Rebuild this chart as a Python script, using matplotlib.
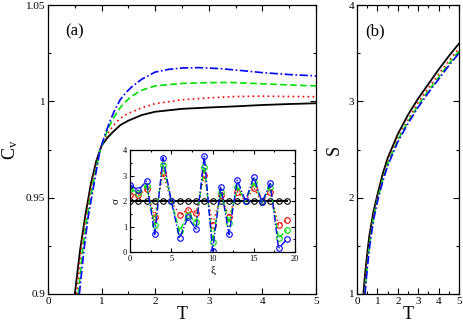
import matplotlib
matplotlib.use("Agg")
import matplotlib.pyplot as plt
from matplotlib.ticker import MultipleLocator, FuncFormatter
import numpy as np

plt.rcParams['font.family'] = ['Liberation Serif', 'DejaVu Serif']
plt.rcParams['mathtext.fontset'] = 'custom'
plt.rcParams['mathtext.rm'] = 'Liberation Serif'
plt.rcParams['mathtext.it'] = 'Liberation Serif'

# ---- Panel (a): specific heat ----
T_cv_black = [0.50, 0.60, 0.70, 0.80, 0.90, 1.00, 1.10, 1.20, 1.35, 1.50, 1.75, 2.00, 2.50, 3.00, 3.50, 4.00, 4.50, 5.00]
Cv_black = [0.900, 0.9232, 0.9415, 0.9572, 0.9690, 0.9770, 0.9808, 0.9838, 0.9877, 0.9900, 0.9929, 0.9946, 0.9961, 0.9968, 0.9974, 0.9981, 0.9986, 0.9990]

T_cv_red = [0.535, 0.62, 0.71, 0.82, 0.96, 1.05, 1.15, 1.25, 1.35, 1.45, 1.55, 1.75, 2.00, 2.50, 3.00, 3.50, 4.00, 4.50, 5.00]
Cv_red = [0.900, 0.9228, 0.9401, 0.9575, 0.9745, 0.9805, 0.9848, 0.9884, 0.9912, 0.9930, 0.9944, 0.9966, 0.9988, 1.0008, 1.0018, 1.0025, 1.0027, 1.0025, 1.0024]

T_cv_green = [0.565, 0.645, 0.73, 0.84, 0.97, 1.06, 1.15, 1.25, 1.35, 1.45, 1.55, 1.75, 2.00, 2.50, 3.00, 3.40, 4.00, 4.50, 5.00]
Cv_green = [0.900, 0.9228, 0.9401, 0.9575, 0.9745, 0.9815, 0.9875, 0.9926, 0.9968, 0.9999, 1.0025, 1.0058, 1.0080, 1.0093, 1.0097, 1.0098, 1.0091, 1.0085, 1.0080]

T_cv_blue = [0.585, 0.67, 0.75, 0.86, 0.97, 1.06, 1.15, 1.25, 1.35, 1.45, 1.55, 1.75, 2.00, 2.25, 2.50, 2.80, 3.20, 3.60, 4.00, 4.50, 5.00]
Cv_blue = [0.900, 0.9228, 0.9401, 0.9575, 0.9747, 0.9825, 0.9893, 0.9958, 1.0010, 1.0044, 1.0072, 1.0115, 1.0152, 1.0166, 1.0173, 1.0175, 1.0170, 1.0160, 1.0149, 1.0139, 1.0132]

# ---- Panel (b): entropy ----
T_s_black = [0.31, 0.40, 0.50, 0.60, 0.80, 1.00, 1.25, 1.50, 2.00, 2.50, 3.00, 3.50, 4.00, 4.50, 5.00]
S_black = [1.00, 1.22, 1.42, 1.60, 1.85, 2.03, 2.24, 2.41, 2.66, 2.86, 3.03, 3.18, 3.33, 3.47, 3.60]
T_s_red = [0.34, 0.50, 0.60, 0.80, 1.00, 1.25, 1.50, 2.00, 2.50, 3.00, 3.50, 4.00, 4.50, 5.00]
S_red = [1.00, 1.35, 1.54, 1.81, 2.00, 2.20, 2.37, 2.62, 2.81, 2.99, 3.14, 3.28, 3.42, 3.55]
T_s_green = [0.37, 0.50, 0.60, 0.80, 1.00, 1.25, 1.50, 2.00, 2.50, 3.00, 3.50, 4.00, 4.50, 5.00]
S_green = [1.00, 1.30, 1.50, 1.79, 1.98, 2.18, 2.35, 2.60, 2.79, 2.96, 3.11, 3.25, 3.39, 3.52]
T_s_blue = [0.39, 0.50, 0.60, 0.80, 1.00, 1.25, 1.50, 2.00, 2.50, 3.00, 3.50, 4.00, 4.50, 5.00]
S_blue = [1.00, 1.26, 1.46, 1.76, 1.96, 2.16, 2.33, 2.58, 2.77, 2.94, 3.09, 3.23, 3.37, 3.50]

# ---- Inset: sigma vs xi ----
xi = list(range(20))
sigma_black = [2.0] * 20
sigma_red = [2.25, 2.24, 2.46, 1.39, 3.09, 2.0, 1.45, 1.65, 1.52, 3.02, 1.06, 2.24, 1.39, 2.37, 2.0, 2.52, 1.95, 2.37, 1.06, 1.25]
sigma_green = [2.47, 2.32, 2.60, 1.06, 3.41, 2.0, 0.82, 1.45, 1.19, 3.35, 0.40, 2.37, 1.14, 2.56, 2.0, 2.76, 1.95, 2.56, 0.54, 0.86]
sigma_blue = [2.64, 2.42, 2.78, 0.69, 3.70, 2.0, 0.54, 1.36, 0.90, 3.78, 0.04, 2.56, 0.69, 2.82, 2.0, 2.95, 1.95, 2.69, 0.14, 0.50]

RED, GREEN, BLUE = '#ff0000', '#00e000', '#0000ff'
dot = (0, (1, 2))
dash = (0, (4, 2))
dashdot = (0, (5, 1.5, 1, 1.5))

fig = plt.figure(figsize=(4.63, 3.23), dpi=100)
axA = fig.add_axes([0.1037, 0.0898, 0.5788, 0.8947])
axB = fig.add_axes([0.7711, 0.0898, 0.2203, 0.8947])
axI = fig.add_axes([0.2808, 0.2198, 0.3564, 0.3158])

fmt = FuncFormatter(lambda v, p: '%g' % round(v, 6))

def style(ax, xmaj, xmin, ymaj, ymin, fs, lmaj, lmin):
    ax.xaxis.set_major_locator(MultipleLocator(xmaj))
    ax.xaxis.set_minor_locator(MultipleLocator(xmin))
    ax.yaxis.set_major_locator(MultipleLocator(ymaj))
    ax.yaxis.set_minor_locator(MultipleLocator(ymin))
    ax.xaxis.set_major_formatter(fmt)
    ax.yaxis.set_major_formatter(fmt)
    ax.tick_params(which='both', direction='in', top=True, right=True, labelsize=fs, width=0.8, pad=2)
    ax.tick_params(which='major', length=lmaj)
    ax.tick_params(which='minor', length=lmin)
    for s in ax.spines.values():
        s.set_linewidth(0.9)

# Panel (a)
axA.plot(T_cv_black, Cv_black, color='black', lw=1.3)
axA.plot(T_cv_red, Cv_red, color=RED, lw=1.2, ls=dot)
axA.plot(T_cv_green, Cv_green, color=GREEN, lw=1.2, ls=dash)
axA.plot(T_cv_blue, Cv_blue, color=BLUE, lw=1.2, ls=dashdot)
axA.set_xlim(0, 5)
axA.set_ylim(0.9, 1.05)
style(axA, 1, 0.5, 0.05, 0.025, 8, 4.5, 2.2)
axA.set_xlabel('T', fontsize=13, labelpad=0)
axA.set_ylabel(r'C$_\mathrm{v}$', fontsize=13, labelpad=4)
axA.text(0.33, 1.0365, '(a)', fontsize=12, va='center', ha='left')

# Panel (b)
axB.plot(T_s_black, S_black, color='black', lw=1.3)
axB.plot(T_s_red, S_red, color=RED, lw=1.2, ls=dot)
axB.plot(T_s_green, S_green, color=GREEN, lw=1.2, ls=dash)
axB.plot(T_s_blue, S_blue, color=BLUE, lw=1.2, ls=dashdot)
axB.set_xlim(0, 5)
axB.set_ylim(1, 4)
style(axB, 1, 0.5, 1, 0.5, 8, 4.5, 2.2)
axB.set_xlabel('T', fontsize=13, labelpad=0)
axB.set_ylabel('S', fontsize=13, labelpad=4)
axB.text(0.4, 3.73, '(b)', fontsize=12, va='center', ha='left')

# Inset
mk = dict(marker='o', mfc='none', ms=4, mew=0.8)
axI.plot(xi, sigma_black, color='black', lw=1.5, **mk)
axI.plot(xi, sigma_red, color=RED, lw=1.0, ls=dot, **mk)
axI.plot(xi, sigma_green, color=GREEN, lw=1.0, ls=dash, **mk)
axI.plot(xi, sigma_blue, color=BLUE, lw=1.0, ls=dashdot, **mk)
axI.set_xlim(0, 20)
axI.set_ylim(0, 4)
style(axI, 5, 2.5, 1, 0.5, 6, 3, 1.5)
axI.set_xlabel('ξ', fontsize=8, labelpad=2)
axI.set_ylabel('σ', fontsize=8, labelpad=2)

fig.savefig('out.png', dpi=100)
